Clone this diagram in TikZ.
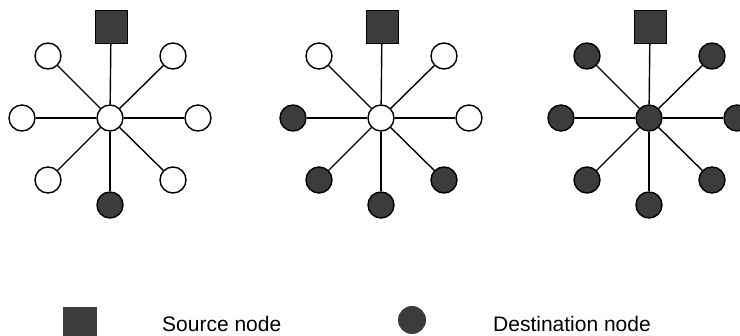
\documentclass[tikz,border=0pt]{standalone}
\usepackage{fontspec}
\setmainfont{Liberation Sans}
\definecolor{shade}{HTML}{3C3C3C}
\tikzset{
  hub/.style={circle, draw=black, line width=1.4pt, minimum size=26pt, inner sep=0pt},
  empty/.style={hub, fill=white},
  dest/.style={hub, fill=shade},
  src/.style={rectangle, draw=black, fill=shade, line width=1pt,
              minimum width=32pt, minimum height=33pt, inner sep=0pt},
  link/.style={line width=1.4pt},
  legendtext/.style={anchor=base west, inner sep=0pt, font=\fontsize{21}{25}\selectfont}
}
% One star network: #1 name prefix, #2 horizontal shift,
% #3 style of the hub, #4 style of the NW, NE and E nodes,
% #5 style of the W, SW and SE nodes; the S node is always a destination.
\newcommand{\starnet}[5]{%
  \begin{scope}[xshift=#2]
    \node[#3]  (#1c)  at (110,118) {};
    \node[src] (#1src) at (111,27) {};
    \node[#5]  (#1w)  at (22,118)  {};
    \node[#4]  (#1nw) at (48,56)   {};
    \node[#4]  (#1ne) at (173,56)  {};
    \node[#4]  (#1e)  at (198,118) {};
    \node[#5]  (#1se) at (173,180) {};
    \node[dest](#1s)  at (110,205) {};
    \node[#5]  (#1sw) at (48,180)  {};
    \foreach \d in {src,w,nw,ne,e,se,s,sw}
      \draw[link] (#1c) -- (#1\d);
  \end{scope}}
\begin{document}
\begin{tikzpicture}[x=1pt, y=-1pt]
  \useasboundingbox (0,0) rectangle (740,336);
  \clip (0,0) rectangle (740,336);

  % three stages of the broadcast
  \starnet{a}{0pt}{empty}{empty}{empty}
  \starnet{b}{271pt}{empty}{empty}{dest}
  \starnet{c}{539pt}{dest}{dest}{dest}

  % legend
  \node[src, draw=none, minimum width=34pt] (keysrc) at (80,323.5) {};
  \node[legendtext] (keysrctext) at (162,332) {Source node};
  \node[dest, draw=none, minimum size=28pt] (keydest) at (412,320) {};
  \node[legendtext] (keydesttext) at (493,332) {Destination node};
\end{tikzpicture}
\end{document}
